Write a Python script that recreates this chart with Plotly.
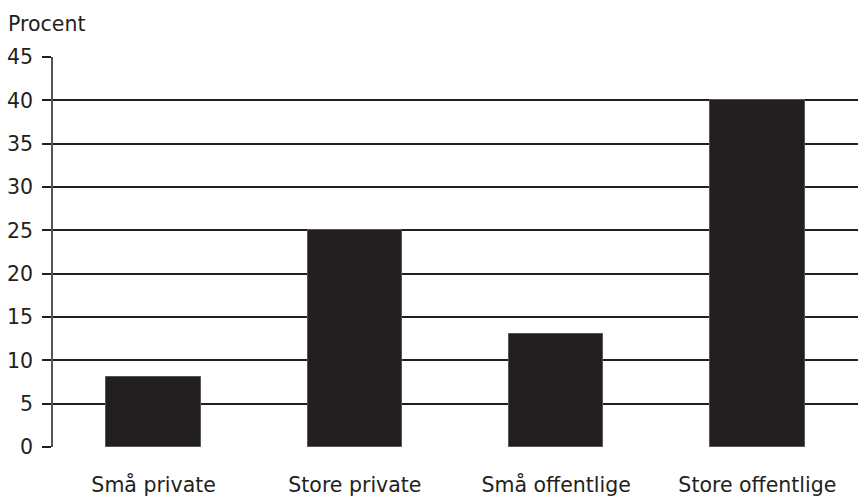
import plotly.graph_objects as go

categories = ["Små private", "Store private", "Små offentlige", "Store offentlige"]
values = [8.1, 25, 13, 40]
y_ticks = [0, 5, 10, 15, 20, 25, 30, 35, 40, 45]

ink = "#231f20"
font_family = "DejaVu Sans, Noto Sans, sans-serif"
font_size = 20.5

fig = go.Figure(
    go.Bar(
        x=list(range(len(categories))),
        y=values,
        width=0.47,
        marker=dict(color=ink, line=dict(color="#555555", width=1)),
    )
)

fig.update_layout(
    width=858,
    height=498,
    margin=dict(l=53, r=0, t=57, b=51, autoexpand=False),
    paper_bgcolor="white",
    plot_bgcolor="white",
    showlegend=False,
    font=dict(family=font_family, size=font_size, color=ink),
    bargap=0,
)

fig.update_xaxes(
    range=[-0.5, 3.5],
    tickmode="array",
    tickvals=list(range(len(categories))),
    ticktext=categories,
    ticks="",
    showgrid=False,
    showline=False,
    zeroline=False,
    ticklabelstandoff=23,
    tickfont=dict(size=font_size, color=ink),
)

fig.update_yaxes(
    range=[0, 45],
    tickmode="array",
    tickvals=y_ticks,
    ticks="outside",
    ticklen=9,
    tickwidth=1.5,
    tickcolor=ink,
    showgrid=True,
    gridcolor=ink,
    gridwidth=1.5,
    showline=True,
    linecolor="#555555",
    linewidth=1.5,
    zeroline=False,
    ticklabelstandoff=5,
    tickfont=dict(size=font_size, color=ink),
)

fig.add_annotation(
    text="Procent",
    xref="paper",
    yref="paper",
    x=-53 / 805 + 6 / 805,
    y=1 + 33 / 390,
    xanchor="left",
    yanchor="middle",
    showarrow=False,
    font=dict(size=font_size, color=ink, family=font_family),
)

fig.write_html("out.html")
